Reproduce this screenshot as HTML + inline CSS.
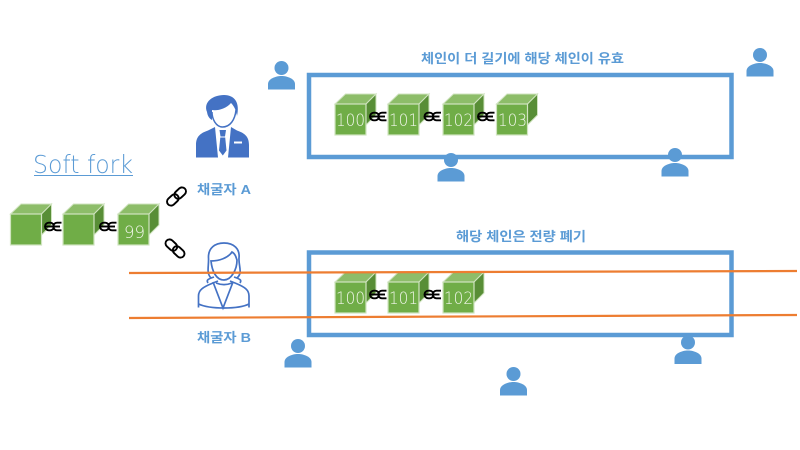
<!DOCTYPE html>
<html>
<head>
<meta charset="utf-8">
<style>
html,body{margin:0;padding:0;background:#fff;width:800px;height:450px;overflow:hidden}
svg{display:block}
.k{font-family:"Liberation Sans","Noto Sans CJK KR",sans-serif;font-weight:700;font-size:13px;fill:#5b9bd5}
.n{font-family:"DejaVu Sans","Liberation Sans",sans-serif;font-weight:200;font-size:17px;fill:#f0f6ea}
</style>
</head>
<body>
<svg width="800" height="450" viewBox="0 0 800 450" xmlns="http://www.w3.org/2000/svg">
<defs>
  <g id="cube">
    <path d="M0 10 L10.500 0 L41 0 L31 10 Z" fill="#8dbd69" stroke="#d0e4c0" stroke-width="1"/>
    <path d="M31 10 L41 0 L41 21 L31 31 Z" fill="#588e36" stroke="#d0e4c0" stroke-width="1"/>
    <rect x="0" y="10" width="31" height="31" fill="#70ad47" stroke="#d0e4c0" stroke-width="1.200"/>
  </g>
  <g id="person" fill="#5b9bd5">
    <circle cx="0" cy="0" r="7"/>
    <path d="M-13.500 21.500 L-13.500 16 C-13.500 11 -6 8 0 8 C6 8 13.500 11 13.500 16 L13.500 21.500 Z"/>
  </g>
  <g id="hlink" fill="none" stroke="#000" stroke-width="1.900">
    <rect x="1" y="-3.800" width="9" height="7.600" rx="3.800"/>
    <path d="M17.500 -3.800 H13 A3.800 3.800 0 0 0 13 3.800 H17.500"/>
    <path d="M1 0 H16"/>
  </g>
  <g id="dlink" fill="none" stroke="#000" stroke-width="1.900">
    <rect x="-11.500" y="-4" width="13" height="8" rx="4"/>
    <rect x="-1.500" y="-4" width="13" height="8" rx="4"/>
  </g>
</defs>

<!-- Boxes -->
<rect x="309" y="75" width="422.500" height="82" fill="none" stroke="#5b9bd5" stroke-width="4.500"/>
<rect x="309" y="252.500" width="422.500" height="82.500" fill="none" stroke="#5b9bd5" stroke-width="4.500"/>

<!-- Soft fork -->
<text x="33" y="173" font-family="DejaVu Sans, Liberation Sans, sans-serif" font-weight="200" font-size="25" fill="#5b9bd5" textLength="100" lengthAdjust="spacingAndGlyphs">Soft fork</text>
<line x1="34" y1="175.500" x2="133" y2="175.500" stroke="#5b9bd5" stroke-width="1"/>

<!-- Left chain -->
<use href="#cube" x="10.500" y="204"/>
<use href="#cube" x="63" y="204"/>
<use href="#cube" x="118" y="204"/>
<text x="124" y="238" class="n" textLength="21" lengthAdjust="spacingAndGlyphs">99</text>
<use href="#hlink" x="44" y="226.500"/>
<use href="#hlink" x="99" y="226.500"/>
<use href="#dlink" transform="translate(176.500 196.500) rotate(-43)"/>
<use href="#dlink" transform="translate(175 248.500) rotate(43)"/>

<!-- Upper chain -->
<use href="#cube" x="335" y="94"/>
<use href="#cube" x="388" y="94"/>
<use href="#cube" x="443" y="94"/>
<use href="#cube" x="496.500" y="94"/>
<text x="336" y="126" class="n" textLength="29" lengthAdjust="spacingAndGlyphs">100</text>
<text x="389" y="126" class="n" textLength="29" lengthAdjust="spacingAndGlyphs">101</text>
<text x="444" y="126" class="n" textLength="29" lengthAdjust="spacingAndGlyphs">102</text>
<text x="498" y="126" class="n" textLength="29" lengthAdjust="spacingAndGlyphs">103</text>
<use href="#hlink" x="369" y="116.500"/>
<use href="#hlink" x="423.500" y="116.500"/>
<use href="#hlink" x="477" y="116.500"/>

<!-- Lower chain -->
<use href="#cube" x="335" y="272"/>
<use href="#cube" x="388" y="272"/>
<use href="#cube" x="443" y="272"/>
<text x="336" y="304" class="n" textLength="29" lengthAdjust="spacingAndGlyphs">100</text>
<text x="389" y="304" class="n" textLength="29" lengthAdjust="spacingAndGlyphs">101</text>
<text x="444" y="304" class="n" textLength="29" lengthAdjust="spacingAndGlyphs">102</text>
<use href="#hlink" x="369" y="294.500"/>
<use href="#hlink" x="423.500" y="294.500"/>

<!-- Persons -->
<use href="#person" x="281.500" y="68"/>
<use href="#person" x="760" y="55"/>
<use href="#person" x="451" y="160"/>
<use href="#person" x="675" y="155"/>
<use href="#person" x="298" y="346"/>
<use href="#person" x="688" y="342.500"/>
<use href="#person" x="513.500" y="374"/>

<!-- Miner A -->
<g>
  <path d="M196 157.500 V145 C196 136 201 133 208 130.500 L215 127 L218 157.500 Z" fill="#4472c4"/>
  <path d="M249 157.500 V145 C249 136 244 133 237 130.500 L231 127 L228 157.500 Z" fill="#4472c4"/>
  <path d="M219.500 130 H226 L225 136.500 H220.500 Z" fill="#4472c4"/>
  <path d="M220.300 137.500 H225.200 L226.500 150.500 L222.800 155.500 L219 150.500 Z" fill="#4472c4"/>
  <rect x="234" y="141.500" width="8" height="2" fill="#fff"/>
  <path d="M212 112 C212 119 216 127 222.500 127 C230 127 235 120 236 110" fill="#fff" stroke="#4472c4" stroke-width="1.500"/>
  <path d="M207 112 C203 102 213 95 224 95 C235 95 240 103 237 116 C236 110 234 106 231 103 C226 109 217 111 212 110 L212 120 C208.500 118 207.500 115 207 112 Z" fill="#4472c4"/>
</g>

<!-- Miner B -->
<g fill="none" stroke="#4472c4" stroke-width="1.700">
  <path d="M211 278 C206 273 209 266 208.500 258 C208 248 215 243 224 243 C234 243 240 249 239 258 C238.500 266 243 273 237 278"/>
  <path d="M211 261 C219 261 228 258 232 252 C236 254 236 258 237 260 C237 270 231 280 224 280 C216 280 212 271 211 261 Z"/>
  <path d="M214 277 C208 279 206 280 208 283 M234 277 C240 279 242 280 240 283"/>
  <path d="M198.500 307.500 V296 C198.500 290 203 287 213 283 L218 281 M249 307.500 V296 C249 290 245 287 235 283 L230 281"/>
  <path d="M198.500 304 C205 307 214 308 224 308 C234 308 243 307 249 304"/>
  <path d="M213 282 L223 308 L233 282 M216 283 C221 285 227 285 232 283"/>
</g>

<!-- Orange lines -->
<line x1="129" y1="273" x2="797" y2="271" stroke="#ed7d31" stroke-width="2.200"/>
<line x1="129" y1="318" x2="797" y2="315" stroke="#ed7d31" stroke-width="2.200"/>

<!-- Labels -->
<text x="421" y="63" class="k" textLength="203" lengthAdjust="spacingAndGlyphs">체인이 더 길기에 해당 체인이 유효</text>
<text x="456" y="241" class="k" textLength="130" lengthAdjust="spacingAndGlyphs">해당 체인은 전량 폐기</text>
<text x="197" y="194" class="k" textLength="54" lengthAdjust="spacingAndGlyphs">채굴자 A</text>
<text x="197" y="342" class="k" textLength="54" lengthAdjust="spacingAndGlyphs">채굴자 B</text>
</svg>
</body>
</html>
